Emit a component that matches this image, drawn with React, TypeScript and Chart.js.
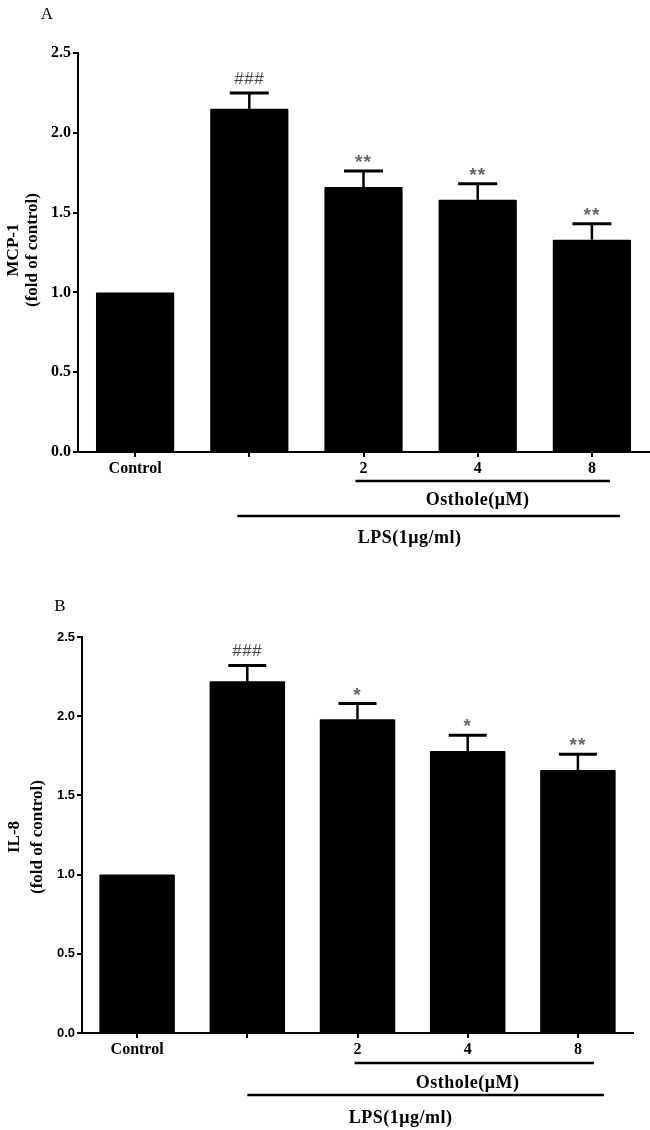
import { useEffect, useRef } from 'react';
import { Chart, registerables } from 'chart.js';

Chart.register(...registerables);

// ---- data ----
const categories = ['Control', '', '2', '4', '8'];
const yTickValues = [0, 0.5, 1.0, 1.5, 2.0, 2.5];

const mcp1Values = [1.0, 2.15, 1.66, 1.58, 1.33];
const mcp1Errors = [0, 0.1, 0.1, 0.1, 0.1];
const mcp1Marks = ['', '###', '**', '**', '**'];

const il8Values = [1.0, 2.22, 1.98, 1.78, 1.66];
const il8Errors = [0, 0.1, 0.1, 0.1, 0.1];
const il8Marks = ['', '###', '*', '*', '**'];

const groupOsthole = 'Osthole(\u03bcM)';
const groupLPS = 'LPS(1\u03bcg/ml)';

type Panel = {
  letter: string;
  letterPos: [number, number];
  title: string[];
  titleX: [number, number];
  titleY: number;
  values: number[];
  errors: number[];
  marks: string[];
  top: number;
  padTop: number;
  yWidth: number;
  xHeight: number;
  padRight: number;
  yFont: any;
  osthole: { y: number; x0: number; x1: number; ty: number; tx: number };
  lps: { y: number; x0: number; x1: number; ty: number; tx: number };
  capW: number;
};

const panels: Panel[] = [
  {
    letter: 'A',
    letterPos: [47, 15],
    title: ['MCP-1', '(fold of control)'],
    titleX: [14, 33],
    titleY: 250,
    values: mcp1Values,
    errors: mcp1Errors,
    marks: mcp1Marks,
    top: 0,
    padTop: 53,
    yWidth: 78,
    xHeight: 113,
    padRight: 1,
    yFont: { family: '"Liberation Serif", serif', size: 16, weight: 'bold' },
    osthole: { y: 481, x0: -8, x1: 18, ty: 500, tx: 0 },
    lps: { y: 516, x0: -12, x1: 28, ty: 538, tx: -11 },
    capW: 39,
  },
  {
    letter: 'B',
    letterPos: [60, 42],
    title: ['IL-8', '(fold of control)'],
    titleX: [15, 38],
    titleY: 272,
    values: il8Values,
    errors: il8Errors,
    marks: il8Marks,
    top: 565,
    padTop: 72,
    yWidth: 82,
    xHeight: 97,
    padRight: 17,
    yFont: { family: '"Liberation Sans", Arial, sans-serif', size: 13, weight: 'bold' },
    osthole: { y: 498, x0: -3, x1: 16, ty: 518, tx: 0 },
    lps: { y: 530, x0: 0, x1: 26, ty: 553, tx: -12 },
    capW: 38,
  },
];

function makeOverlay(p: Panel) {
  return {
    id: 'overlay' + p.letter,
    afterDatasetsDraw(chart: any) {
      const ctx = chart.ctx as CanvasRenderingContext2D;
      const meta = chart.getDatasetMeta(0);
      const ys = chart.scales.y;
      ctx.save();
      // error bars + significance marks
      p.values.forEach((v, i) => {
        const err = p.errors[i];
        const x = meta.data[i].x;
        const yTop = ys.getPixelForValue(v);
        const yCap = ys.getPixelForValue(v + err);
        if (err > 0) {
          ctx.strokeStyle = '#000';
          ctx.lineWidth = 2.5;
          ctx.beginPath();
          ctx.moveTo(x, yTop);
          ctx.lineTo(x, yCap);
          ctx.stroke();
          ctx.lineWidth = 3;
          ctx.beginPath();
          ctx.moveTo(x - p.capW / 2, yCap);
          ctx.lineTo(x + p.capW / 2, yCap);
          ctx.stroke();
        }
        const m = p.marks[i];
        if (m) {
          ctx.textAlign = 'center';
          ctx.textBaseline = 'middle';
          if (m.startsWith('#')) {
            ctx.fillStyle = '#444';
            ctx.font = '17px "Liberation Sans", Arial, sans-serif';
            (ctx as any).letterSpacing = '0.5px';
            ctx.fillText(m, x, yCap - 14);
          } else {
            ctx.fillStyle = '#666';
            ctx.font = 'bold 19px "Liberation Sans", Arial, sans-serif';
            (ctx as any).letterSpacing = '1px';
            ctx.fillText(m, x, yCap - 8);
          }
          (ctx as any).letterSpacing = '0px';
        }
      });
      ctx.restore();
    },
    afterDraw(chart: any) {
      const ctx = chart.ctx as CanvasRenderingContext2D;
      const xs = chart.scales.x;
      ctx.save();
      // panel letter
      ctx.fillStyle = '#000';
      ctx.font = '17px "Liberation Serif", serif';
      ctx.textAlign = 'center';
      ctx.textBaseline = 'middle';
      ctx.fillText(p.letter, p.letterPos[0], p.letterPos[1]);
      // y title (rotated)
      ctx.font = 'bold 17px "Liberation Serif", serif';
      p.title.forEach((t, k) => {
        ctx.save();
        ctx.translate(p.titleX[k], p.titleY);
        ctx.rotate(-Math.PI / 2);
        ctx.fillText(t, 0, 0);
        ctx.restore();
      });
      // group lines
      const c1 = xs.getPixelForValue(1);
      const c2 = xs.getPixelForValue(2);
      const c3 = xs.getPixelForValue(3);
      const c4 = xs.getPixelForValue(4);
      ctx.strokeStyle = '#000';
      ctx.lineWidth = 2.5;
      ctx.beginPath();
      ctx.moveTo(c2 + p.osthole.x0, p.osthole.y);
      ctx.lineTo(c4 + p.osthole.x1, p.osthole.y);
      ctx.stroke();
      ctx.beginPath();
      ctx.moveTo(c1 + p.lps.x0, p.lps.y);
      ctx.lineTo(c4 + p.lps.x1, p.lps.y);
      ctx.stroke();
      ctx.font = 'bold 18px "Liberation Serif", serif';
      (ctx as any).letterSpacing = '0.5px';
      ctx.fillText(groupOsthole, c3 + p.osthole.tx, p.osthole.ty);
      ctx.fillText(groupLPS, (c2 + c3) / 2 + p.lps.tx, p.lps.ty);
      (ctx as any).letterSpacing = '0px';
      ctx.restore();
    },
  };
}

function BarPanel({ p }: { p: Panel }) {
  const ref = useRef<HTMLCanvasElement>(null);
  useEffect(() => {
    if (!ref.current) return;
    const chart = new Chart(ref.current, {
      type: 'bar',
      data: {
        labels: categories,
        datasets: [
          {
            data: p.values,
            backgroundColor: '#000',
            borderWidth: 0,
            borderRadius: 1,
            barPercentage: 0.685,
            categoryPercentage: 1,
          },
        ],
      },
      options: {
        responsive: false,
        animation: false,
        devicePixelRatio: 1,
        layout: { padding: { top: p.padTop, right: p.padRight, left: 0, bottom: 0 } },
        plugins: { legend: { display: false }, tooltip: { enabled: false } },
        scales: {
          x: {
            afterFit: (s: any) => {
              s.height = p.xHeight;
            },
            grid: {
              offset: false,
              drawOnChartArea: false,
              color: '#000',
              lineWidth: 2,
              tickLength: 5,
            },
            border: { color: '#000', width: 2 },
            ticks: {
              color: '#000',
              padding: 2,
              maxRotation: 0,
              autoSkip: false,
              font: { family: '"Liberation Serif", serif', size: 16, weight: 'bold' },
            },
          },
          y: {
            min: 0,
            max: 2.5,
            afterFit: (s: any) => {
              s.width = p.yWidth;
            },
            afterBuildTicks: (s: any) => {
              s.ticks = yTickValues.map((v) => ({ value: v }));
            },
            grid: {
              drawOnChartArea: false,
              color: '#000',
              lineWidth: 2,
              tickLength: 5,
            },
            border: { color: '#000', width: 2 },
            ticks: {
              color: '#000',
              padding: 2,
              font: p.yFont,
              callback: (v: any) => Number(v).toFixed(1),
            },
          },
        },
      } as any,
      plugins: [makeOverlay(p)],
    });
    return () => chart.destroy();
  }, [p]);
  return (
    <canvas
      ref={ref}
      width={650}
      height={565}
      style={{ position: 'absolute', left: 0, top: p.top, width: 650, height: 565, display: 'block' }}
    />
  );
}

export default function App() {
  return (
    <div style={{ position: 'absolute', left: 0, top: 0, width: 650, height: 1130, background: '#fff', overflow: 'hidden' }}>
      {panels.map((p) => (
        <BarPanel key={p.letter} p={p} />
      ))}
    </div>
  );
}
